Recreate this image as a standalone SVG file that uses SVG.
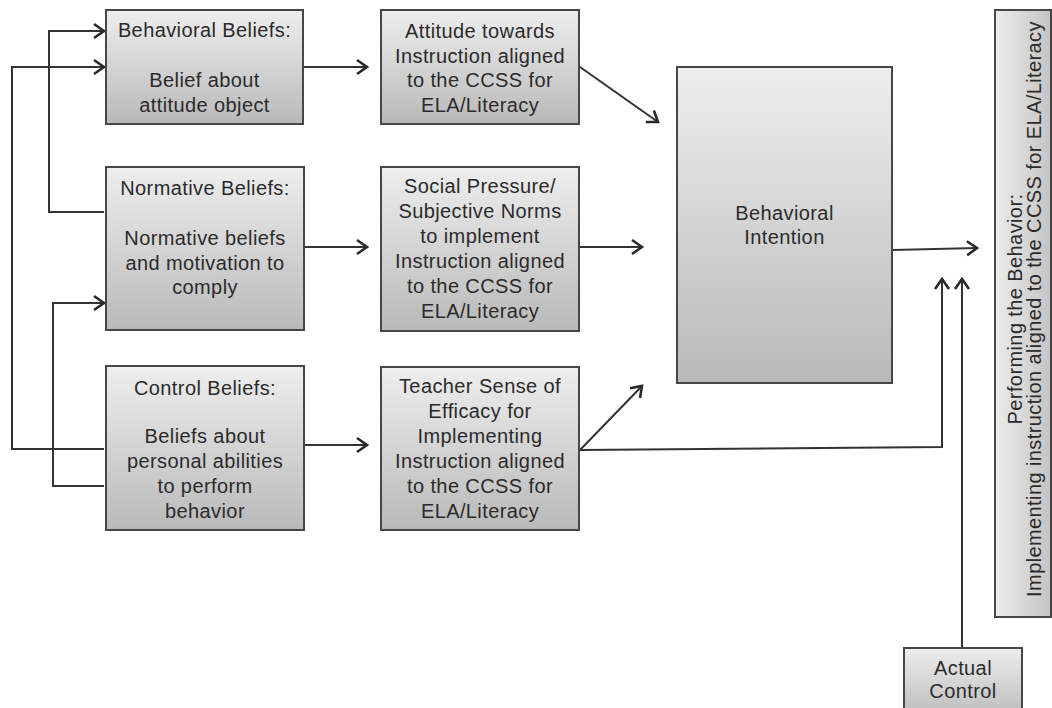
<svg xmlns="http://www.w3.org/2000/svg" width="1052" height="708" viewBox="0 0 1052 708">
  <defs>
    <linearGradient id="shade" x1="0" y1="0" x2="0" y2="1">
      <stop offset="0" stop-color="#eeeeee"/>
      <stop offset="1" stop-color="#b9b9b9"/>
    </linearGradient>
    <linearGradient id="shadeSide" x1="0" y1="0" x2="1" y2="0">
      <stop offset="0" stop-color="#ececec"/>
      <stop offset="1" stop-color="#c4c4c4"/>
    </linearGradient>
    <marker id="arrow" markerUnits="userSpaceOnUse" markerWidth="16" markerHeight="18" refX="11" refY="8" orient="auto" overflow="visible">
      <path d="M1,1 L11,8 L1,15" fill="none" stroke="#2a2a2a" stroke-width="2.6" stroke-linejoin="miter"/>
    </marker>
    <style>
      .box { fill: url(#shade); stroke: #474747; stroke-width: 2; }
      .side { fill: url(#shadeSide); stroke: #474747; stroke-width: 2; }
      .lbl { font-family: "Liberation Sans", Arial, sans-serif; font-size: 20px; letter-spacing: 0.4px; fill: #2b2b2b; text-anchor: middle; }
      .wire { fill: none; stroke: #333333; stroke-width: 2; }
      .tip { marker-end: url(#arrow); }
    </style>
  </defs>

  <rect width="1052" height="708" fill="#ffffff"/>

  <!-- connectors -->
  <g id="connectors">
    <!-- feedback brackets on the left -->
    <polyline class="wire tip" points="104,212 49,212 49,31 104,31"/>
    <polyline class="wire tip" points="104,449 12,449 12,67 104,67"/>
    <polyline class="wire tip" points="104,486 53,486 53,303 104,303"/>
    <!-- beliefs to attitudes/norms/efficacy -->
    <line class="wire tip" x1="304" y1="67" x2="367" y2="67"/>
    <line class="wire tip" x1="305" y1="247" x2="367" y2="247"/>
    <line class="wire tip" x1="305" y1="445" x2="367" y2="445"/>
    <!-- into behavioral intention -->
    <line class="wire tip" x1="580" y1="67" x2="658" y2="122"/>
    <line class="wire tip" x1="580" y1="247" x2="642" y2="247"/>
    <line class="wire tip" x1="580" y1="450" x2="642" y2="386"/>
    <!-- efficacy straight to behavior -->
    <polyline class="wire tip" points="580,450 942,447 942,279"/>
    <!-- intention to behavior -->
    <line class="wire tip" x1="893" y1="250" x2="977" y2="248"/>
    <!-- actual control to behavior -->
    <line class="wire tip" x1="962" y1="648" x2="962" y2="279"/>
  </g>

  <g id="behavioral-beliefs">
    <rect class="box" x="106" y="10" width="197" height="114"/>
    <text class="lbl" x="204.5" y="37">Behavioral Beliefs:</text>
    <text class="lbl" x="204.5" y="87">Belief about</text>
    <text class="lbl" x="204.5" y="112">attitude object</text>
  </g>

  <g id="normative-beliefs">
    <rect class="box" x="106" y="167" width="198" height="163"/>
    <text class="lbl" x="205" y="195">Normative Beliefs:</text>
    <text class="lbl" x="205" y="245">Normative beliefs</text>
    <text class="lbl" x="205" y="270">and motivation to</text>
    <text class="lbl" x="205" y="294">comply</text>
  </g>

  <g id="control-beliefs">
    <rect class="box" x="106" y="366" width="198" height="164"/>
    <text class="lbl" x="205" y="395">Control Beliefs:</text>
    <text class="lbl" x="205" y="443">Beliefs about</text>
    <text class="lbl" x="205" y="468">personal abilities</text>
    <text class="lbl" x="205" y="493">to perform</text>
    <text class="lbl" x="205" y="518">behavior</text>
  </g>

  <g id="attitude">
    <rect class="box" x="381" y="10" width="198" height="114"/>
    <text class="lbl" x="480" y="38">Attitude towards</text>
    <text class="lbl" x="480" y="63">Instruction aligned</text>
    <text class="lbl" x="480" y="87">to the CCSS for</text>
    <text class="lbl" x="480" y="112">ELA/Literacy</text>
  </g>

  <g id="subjective-norms">
    <rect class="box" x="381" y="167" width="198" height="164"/>
    <text class="lbl" x="480" y="193">Social Pressure/</text>
    <text class="lbl" x="480" y="218">Subjective Norms</text>
    <text class="lbl" x="480" y="243">to implement</text>
    <text class="lbl" x="480" y="268">Instruction aligned</text>
    <text class="lbl" x="480" y="293">to the CCSS for</text>
    <text class="lbl" x="480" y="318">ELA/Literacy</text>
  </g>

  <g id="efficacy">
    <rect class="box" x="381" y="367" width="198" height="163"/>
    <text class="lbl" x="480" y="393">Teacher Sense of</text>
    <text class="lbl" x="480" y="418">Efficacy for</text>
    <text class="lbl" x="480" y="443">Implementing</text>
    <text class="lbl" x="480" y="468">Instruction aligned</text>
    <text class="lbl" x="480" y="493">to the CCSS for</text>
    <text class="lbl" x="480" y="518">ELA/Literacy</text>
  </g>

  <g id="behavioral-intention">
    <rect class="box" x="677" y="67" width="215" height="316"/>
    <text class="lbl" x="784.5" y="220">Behavioral</text>
    <text class="lbl" x="784.5" y="244">Intention</text>
  </g>

  <g id="performing-behavior">
    <rect class="side" x="995" y="10" width="56" height="607"/>
    <g transform="translate(1022,309) rotate(-90)">
      <text class="lbl" x="0" y="0">Performing the Behavior:</text>
      <text class="lbl" x="0" y="19">Implementing instruction aligned to the CCSS for ELA/Literacy</text>
    </g>
  </g>

  <g id="actual-control">
    <rect class="box" x="904" y="648" width="118" height="72"/>
    <text class="lbl" x="963" y="675">Actual</text>
    <text class="lbl" x="963" y="698">Control</text>
  </g>
</svg>
